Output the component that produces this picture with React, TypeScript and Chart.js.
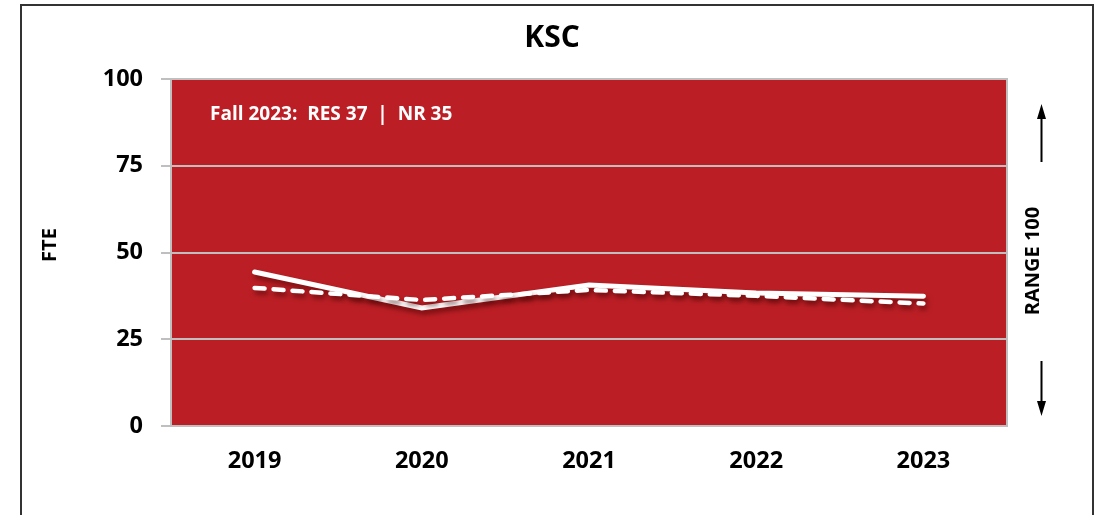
import React, { useEffect, useRef } from "react";
import { Chart, registerables } from "chart.js";

Chart.register(...registerables);

const years = ["2019", "2020", "2021", "2022", "2023"];
const resValues = [44.4, 34.0, 40.6, 38.3, 37.4];
const nrValues = [39.8, 36.3, 39.2, 37.5, 35.3];
const titleText = "KSC";
const yAxisTitle = "FTE";
const rangeText = "RANGE 100";
const noteText = "Fall 2023:  RES 37  |  NR 35";

const RED = "#BB1F25";
const FONT = "'Open Sans', 'Noto Sans', sans-serif";

const decorPlugin = {
  id: "decor",
  beforeDraw(chart: any) {
    const { ctx, chartArea } = chart;
    ctx.save();
    ctx.fillStyle = RED;
    ctx.fillRect(chartArea.left, chartArea.top, chartArea.right - chartArea.left, chartArea.bottom - chartArea.top);
    ctx.restore();
  },
  beforeDatasetsDraw(chart: any) {
    const { ctx, chartArea } = chart;
    ctx.save();
    ctx.strokeStyle = "#bfbfbf";
    ctx.lineWidth = 2;
    ctx.strokeRect(chartArea.left, chartArea.top, chartArea.right - chartArea.left, chartArea.bottom - chartArea.top);
    ctx.fillStyle = "#ffffff";
    ctx.font = `bold 19px ${FONT}`;
    ctx.textAlign = "left";
    ctx.textBaseline = "middle";
    ctx.fillText(noteText, chartArea.left + 39, chartArea.top + 36);
    ctx.restore();
  },
  afterDraw(chart: any) {
    const { ctx, width } = chart;
    ctx.save();
    ctx.fillStyle = "#000";
    ctx.font = `bold 30px ${FONT}`;
    ctx.textAlign = "center";
    ctx.textBaseline = "middle";
    ctx.fillText(titleText, width / 2, 38);
    ctx.save();
    ctx.translate(50, 245);
    ctx.rotate(-Math.PI / 2);
    ctx.font = `bold 20px ${FONT}`;
    ctx.fillText(yAxisTitle, 0, 0);
    ctx.restore();
    ctx.save();
    ctx.translate(1033, 261);
    ctx.rotate(-Math.PI / 2);
    ctx.font = `bold 20px ${FONT}`;
    ctx.fillText(rangeText, 0, 0);
    ctx.restore();
    const ax = 1041.5;
    ctx.strokeStyle = "#000";
    ctx.lineWidth = 2;
    ctx.beginPath();
    ctx.moveTo(ax, 162);
    ctx.lineTo(ax, 110);
    ctx.moveTo(ax, 361);
    ctx.lineTo(ax, 410);
    ctx.stroke();
    ctx.beginPath();
    ctx.moveTo(ax, 104);
    ctx.lineTo(ax - 4.5, 119);
    ctx.lineTo(ax + 4.5, 119);
    ctx.closePath();
    ctx.moveTo(ax, 416);
    ctx.lineTo(ax - 4.5, 401);
    ctx.lineTo(ax + 4.5, 401);
    ctx.closePath();
    ctx.fillStyle = "#000";
    ctx.fill();
    ctx.restore();
  },
  beforeDatasetDraw(chart: any) {
    const { ctx } = chart;
    ctx.save();
    ctx.shadowColor = "rgba(60,0,0,0.55)";
    ctx.shadowBlur = 5;
    ctx.shadowOffsetX = 2;
    ctx.shadowOffsetY = 4;
  },
  afterDatasetDraw(chart: any) {
    chart.ctx.restore();
  },
};

export default function App() {
  const ref = useRef<HTMLCanvasElement | null>(null);
  useEffect(() => {
    if (!ref.current) return;
    const chart = new Chart(ref.current, {
      type: "line",
      data: {
        labels: years,
        datasets: [
          {
            label: "RES",
            data: resValues,
            borderColor: "#ffffff",
            borderWidth: 5,
            pointRadius: 0,
            tension: 0,
            borderCapStyle: "round",
            borderJoinStyle: "miter",
            order: 1,
          },
          {
            label: "NR",
            data: nrValues,
            borderColor: "#ffffff",
            borderWidth: 4.5,
            borderDash: [10, 9],
            pointRadius: 0,
            tension: 0,
            borderCapStyle: "round",
            order: 0,
          },
        ],
      },
      options: {
        responsive: false,
        animation: false,
        layout: { padding: { top: 79, right: 97, bottom: 39, left: 0 } },
        plugins: {
          legend: { display: false },
          title: { display: false },
          tooltip: { enabled: false },
        },
        scales: {
          x: {
            offset: true,
            grid: { display: false, drawTicks: false },
            border: { display: false },
            ticks: {
              color: "#000",
              font: { family: FONT, size: 23.5, weight: "bold" },
              padding: 21,
            },
            afterFit(scale: any) {
              scale.height = 50;
            },
          },
          y: {
            min: 0,
            max: 100,
            ticks: {
              stepSize: 25,
              color: "#000",
              font: { family: FONT, size: 23.5, weight: "bold" },
              padding: 18,
            },
            grid: { color: "#bfbfbf", lineWidth: 2, tickLength: 10 },
            border: { display: false },
            afterFit(scale: any) {
              scale.width = 171;
            },
          },
        },
      },
      plugins: [decorPlugin],
    } as any);
    return () => chart.destroy();
  }, []);
  return (
    <div style={{ position: "absolute", left: 0, top: 0, width: 1104, height: 515, background: "#fff", overflow: "hidden" }}>
      <canvas ref={ref} width={1104} height={515} style={{ position: "absolute", left: 0, top: 0, width: 1104, height: 515 }} />
      <div
        style={{
          position: "absolute",
          left: 20,
          top: 4,
          width: 1074,
          height: 560,
          border: "2px solid #333",
          boxSizing: "border-box",
          pointerEvents: "none",
        }}
      />
    </div>
  );
}
